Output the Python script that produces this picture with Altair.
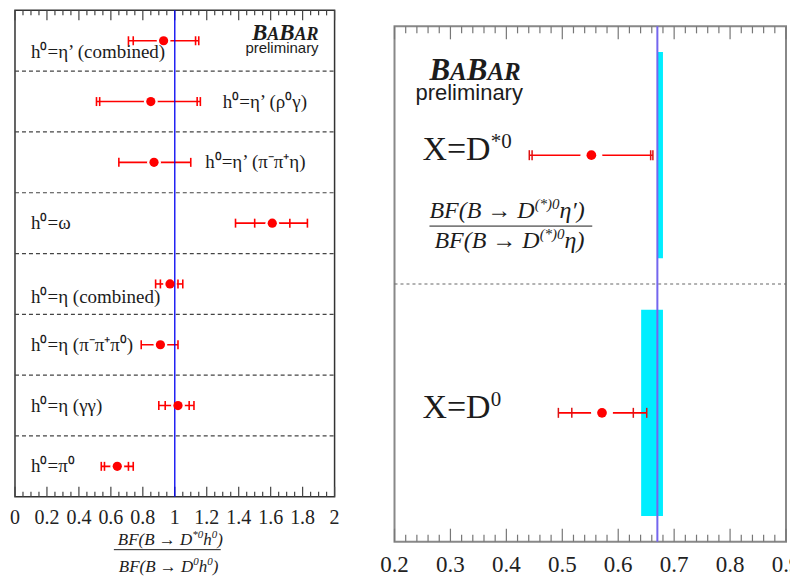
import altair as alt
import numpy as np
import pandas as pd

# ---------------- left panel data ----------------
modes = ["h⁰=η’ (combined)", "h⁰=η’ (ρ⁰γ)", "h⁰=η’ (π⁻π⁺η)", "h⁰=ω",
         "h⁰=η (combined)", "h⁰=η (π⁻π⁺π⁰)", "h⁰=η (γγ)", "h⁰=π⁰"]
ratio   = [0.93, 0.85, 0.87, 1.61, 0.97, 0.91, 1.02, 0.64]
stat_lo = [0.74, 0.53, 0.65, 1.50, 0.91, 0.79, 0.94, 0.56]
stat_hi = [1.13, 1.14, 1.10, 1.72, 1.02, 1.02, 1.09, 0.71]
tot_lo  = [0.71, 0.51, 0.65, 1.38, 0.88, 0.79, 0.90, 0.54]
tot_hi  = [1.15, 1.16, 1.10, 1.83, 1.05, 1.02, 1.12, 0.74]
label_x     = [0.10, 1.30, 1.19, 0.10, 0.10, 0.10, 0.10, 0.10]
label_shift = [0.18, 0.0, 0.0, 0.0, 0.21, 0.0, 0.0, 0.0]
left_ref = 1.0
left_labels = [0, 0.2, 0.4, 0.6, 0.8, 1, 1.2, 1.4, 1.6, 1.8, 2]

# ---------------- right panel data ----------------
states    = ["X=D*0", "X=D0"]
r_ratio   = [0.552, 0.571]
r_stat_lo = [0.446, 0.517]
r_stat_hi = [0.658, 0.627]
r_tot_lo  = [0.441, 0.493]
r_tot_hi  = [0.662, 0.651]
band_lo   = [0.670, 0.641]
band_hi   = [0.680, 0.680]
band_top  = [0.10, 1.10]
band_bot  = [0.90, 1.90]
right_ref = 0.670
right_labels = [0.2, 0.3, 0.4, 0.5, 0.6, 0.7, 0.8, 0.9]

# ---------------- style ----------------
INK = "#1c1c1c"
SERIF = "Liberation Serif"
SANS = "Liberation Sans"
RED = "#ff0000"
LW, LH = 320, 487
RW, RH = 392, 516

TR = {' ': 250, '(': 333, ')': 333, '*': 500, '=': 564, '+': 564, 'X': 722, 'D': 722, '→': 1000}
TI = {' ': 250, '(': 333, ')': 333, '*': 500, 'B': 611, 'F': 611, 'D': 722, 'h': 500,
      '→': 1000, 'η': 500, '′': 275}
TBI = {'B': 667, 'A': 667, 'R': 667}


def text_width(s, size, table):
    return sum(table.get(ch, 500) for ch in s) * size / 1000.0


ONE = pd.DataFrame({"k": [0]})


def txt(s, x, y, size, style="normal", weight="normal", font=SERIF, align="left", color=INK):
    return alt.Chart(ONE).mark_text(
        text=s, align=align, baseline="alphabetic", font=font, fontSize=size,
        fontStyle=style, fontWeight=weight, color=color
    ).encode(x=alt.value(x), y=alt.value(y))


def rich(parts, x, y):
    out = []
    for s, size, rise, style, weight, table in parts:
        out.append(txt(s, x, y - rise, size, style, weight))
        x += text_width(s, size, table)
    return out


def logo(x, y, big, small):
    parts = [("B", big, 0, "italic", "bold", TBI), ("A", small, 0, "italic", "bold", TBI),
             ("B", big, 0, "italic", "bold", TBI), ("AR", small, 0, "italic", "bold", TBI)]
    return rich(parts, x, y)


def logo_width(big, small):
    return text_width("BB", big, TBI) + text_width("AAR", small, TBI)


def tick_layer(vals, scale, y0, y1, color, width):
    df = pd.DataFrame({"v": vals})
    return alt.Chart(df).mark_rule(color=color, strokeWidth=width).encode(
        x=alt.X("v:Q", scale=scale, axis=None), y=alt.value(y0), y2=alt.value(y1))


def label_layer(vals, scale, y, size):
    df = pd.DataFrame({"v": vals})
    return alt.Chart(df).mark_text(align="center", baseline="alphabetic", font=SERIF,
                                   fontSize=size, color="#222").encode(
        x=alt.X("v:Q", scale=scale, axis=None), y=alt.value(y),
        text=alt.Text("v:Q", format="~g"))


def caps_table(rows, los, slos, shis, his):
    recs = []
    for r, a, b, c, d in zip(rows, los, slos, shis, his):
        for v in sorted(set([a, b, c, d])):
            recs.append({"row": r, "cap": v})
    return pd.DataFrame(recs)


# ================= LEFT PANEL =================
lx = alt.Scale(domain=[0, 2], nice=False, zero=False)
ly = alt.Scale(domain=[0, 8], nice=False, zero=False, reverse=True)
rows = [i + 0.5 for i in range(len(modes))]
ldf = pd.DataFrame({"mode": modes, "row": rows, "ratio": ratio,
                    "tot_lo": tot_lo, "tot_hi": tot_hi,
                    "lx": label_x, "ly": [r + s for r, s in zip(rows, label_shift)]})
lcaps = caps_table(rows, tot_lo, stat_lo, stat_hi, tot_hi)

l_tick_vals = [round(0.05 * i, 2) for i in range(41)]
l_major = [v for v in l_tick_vals if abs(v / 0.2 - round(v / 0.2)) < 1e-6]
l_minor = [v for v in l_tick_vals if v not in l_major]

l_layers = [
    alt.Chart(pd.DataFrame({"b": list(range(1, 8))})).mark_rule(
        color="#444", strokeWidth=1.2, strokeDash=[4, 3]).encode(
        y=alt.Y("b:Q", scale=ly, axis=None), x=alt.value(0), x2=alt.value(LW)),
    tick_layer(l_major, lx, 0, 10, "#444", 1.2),
    tick_layer(l_minor, lx, 0, 5, "#444", 1.2),
    tick_layer(l_major, lx, LH, LH - 10, "#444", 1.2),
    tick_layer(l_minor, lx, LH, LH - 5, "#444", 1.2),
    label_layer(left_labels, lx, LH + 27, 20),
    alt.Chart(ldf).mark_rule(color=RED, strokeWidth=1.6).encode(
        x=alt.X("tot_lo:Q", scale=lx, axis=None), x2="tot_hi:Q",
        y=alt.Y("row:Q", scale=ly, axis=None)),
    alt.Chart(lcaps).mark_tick(orient="vertical", color=RED, size=9, thickness=1.6, opacity=1).encode(
        x=alt.X("cap:Q", scale=lx, axis=None), y=alt.Y("row:Q", scale=ly, axis=None)),
    alt.Chart(ldf).mark_circle(color="white", size=190, opacity=1).encode(
        x=alt.X("ratio:Q", scale=lx, axis=None), y=alt.Y("row:Q", scale=ly, axis=None)),
    alt.Chart(ONE).mark_rule(color="#0000f0", strokeWidth=1.3).encode(
        x=alt.datum(left_ref, scale=lx, axis=None)),
    alt.Chart(ldf).mark_circle(color=RED, size=85, opacity=1).encode(
        x=alt.X("ratio:Q", scale=lx, axis=None), y=alt.Y("row:Q", scale=ly, axis=None)),
    alt.Chart(ldf).mark_text(align="left", baseline="middle", font=SERIF, fontSize=19,
                             color=INK).encode(
        x=alt.X("lx:Q", scale=lx, axis=None), y=alt.Y("ly:Q", scale=ly, axis=None),
        text="mode:N"),
]
l_layers += logo(304 - logo_width(23, 18), 30, 23, 18)
l_layers.append(txt("preliminary", 304, 43, 15, font=SANS, align="right"))
l_layers += rich([("BF(B → D", 17, 0, "italic", "normal", TI),
                  ("*0", 11, 7, "italic", "normal", TI),
                  ("h", 17, 0, "italic", "normal", TI),
                  ("0", 11, 7, "italic", "normal", TI),
                  (")", 17, 0, "italic", "normal", TI)], 103, 535)
l_layers.append(alt.Chart(ONE).mark_rule(color=INK, strokeWidth=1).encode(
    x=alt.value(99), x2=alt.value(206), y=alt.value(540)))
l_layers += rich([("BF(B → D", 17, 0, "italic", "normal", TI),
                  ("0", 11, 7, "italic", "normal", TI),
                  ("h", 17, 0, "italic", "normal", TI),
                  ("0", 11, 7, "italic", "normal", TI),
                  (")", 17, 0, "italic", "normal", TI)], 104, 562)

left = alt.layer(*l_layers).properties(
    width=LW, height=LH, view=alt.ViewBackground(stroke="#333", strokeWidth=1.5))

# ================= RIGHT PANEL =================
rx = alt.Scale(domain=[0.2, 0.9], nice=False, zero=False)
ry = alt.Scale(domain=[0, 2], nice=False, zero=False, reverse=True)
rrows = [0.5, 1.5]
rdf = pd.DataFrame({"state": states, "row": rrows, "ratio": r_ratio,
                    "tot_lo": r_tot_lo, "tot_hi": r_tot_hi,
                    "band_lo": band_lo, "band_hi": band_hi,
                    "band_top": band_top, "band_bot": band_bot})
rcaps = caps_table(rrows, r_tot_lo, r_stat_lo, r_stat_hi, r_tot_hi)

r_tick_vals = [round(0.2 + 0.02 * i, 2) for i in range(36)]
r_major = [v for v in r_tick_vals if abs(v * 10 - round(v * 10)) < 1e-6]
r_minor = [v for v in r_tick_vals if v not in r_major]

r_layers = [
    alt.Chart(pd.DataFrame({"b": [1]})).mark_rule(
        color="#666", strokeWidth=1, strokeDash=[3, 3]).encode(
        y=alt.Y("b:Q", scale=ry, axis=None), x=alt.value(0), x2=alt.value(RW)),
    tick_layer(r_major, rx, 0, 13, "#777", 1.2),
    tick_layer(r_minor, rx, 0, 7, "#777", 1.2),
    tick_layer(r_major, rx, RH, RH - 13, "#777", 1.2),
    tick_layer(r_minor, rx, RH, RH - 7, "#777", 1.2),
    label_layer(right_labels, rx, RH + 30, 23),
    alt.Chart(rdf).mark_rect(color="#00eeff", opacity=1).encode(
        x=alt.X("band_lo:Q", scale=rx, axis=None), x2="band_hi:Q",
        y=alt.Y("band_top:Q", scale=ry, axis=None), y2="band_bot:Q"),
    alt.Chart(rdf).mark_rule(color=RED, strokeWidth=1.6).encode(
        x=alt.X("tot_lo:Q", scale=rx, axis=None), x2="tot_hi:Q",
        y=alt.Y("row:Q", scale=ry, axis=None)),
    alt.Chart(rcaps).mark_tick(orient="vertical", color="#dd1111", size=10, thickness=1.5, opacity=1).encode(
        x=alt.X("cap:Q", scale=rx, axis=None), y=alt.Y("row:Q", scale=ry, axis=None)),
    alt.Chart(rdf).mark_circle(color="white", size=480, opacity=1).encode(
        x=alt.X("ratio:Q", scale=rx, axis=None), y=alt.Y("row:Q", scale=ry, axis=None)),
    alt.Chart(ONE).mark_rule(color="#7466ee", strokeWidth=2).encode(
        x=alt.datum(right_ref, scale=rx, axis=None)),
    alt.Chart(rdf).mark_circle(color=RED, size=95, opacity=1).encode(
        x=alt.X("ratio:Q", scale=rx, axis=None), y=alt.Y("row:Q", scale=ry, axis=None)),
]
r_layers += logo(35, 54, 31, 25)
r_layers.append(txt("preliminary", 21, 74, 22, font=SANS))
r_layers += rich([("X=D", 34, 0, "normal", "normal", TR),
                  ("*0", 21, 12, "normal", "normal", TR)], 28, 134)
r_layers += rich([("BF(B → D", 24, 0, "italic", "normal", TI),
                  ("(*)0", 15, 9, "italic", "normal", TI),
                  ("η′)", 24, 0, "italic", "normal", TI)], 35, 192)
r_layers.append(alt.Chart(ONE).mark_rule(color=INK, strokeWidth=1).encode(
    x=alt.value(35), x2=alt.value(198), y=alt.value(200)))
r_layers += rich([("BF(B → D", 24, 0, "italic", "normal", TI),
                  ("(*)0", 15, 9, "italic", "normal", TI),
                  ("η)", 24, 0, "italic", "normal", TI)], 40, 222)
r_layers += rich([("X=D", 34, 0, "normal", "normal", TR),
                  ("0", 21, 12, "normal", "normal", TR)], 28, 392)

right = alt.layer(*r_layers).properties(
    width=RW, height=RH, view=alt.ViewBackground(stroke="#888", strokeWidth=2))

spacer = alt.Chart(ONE).mark_rule(opacity=0).encode(
    x=alt.value(0), x2=alt.value(1), y=alt.value(5)).properties(
    width=RW, height=14, view=alt.ViewBackground(strokeOpacity=0, strokeWidth=0))

right_col = alt.vconcat(spacer, right, spacing=0)

chart = alt.hconcat(left, right_col, spacing=38).properties(
    padding={"left": 1, "top": 0, "right": -12, "bottom": 0})

chart.save("out.html", embed_options={"renderer": "svg", "actions": False})
